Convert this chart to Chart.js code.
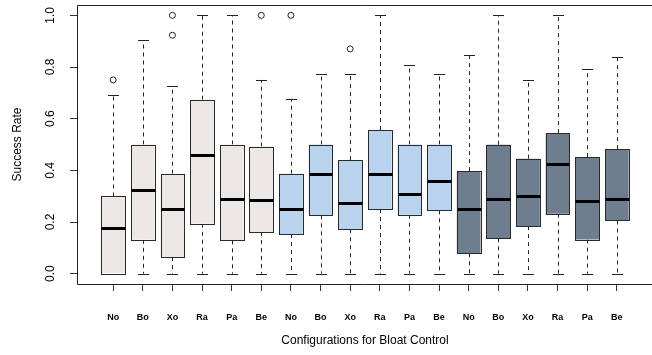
<!DOCTYPE html>
<html>
<head>
<meta charset="utf-8">
<script src="https://cdn.jsdelivr.net/npm/chart.js@4"></script>
<style>
html,body{margin:0;padding:0;background:#fff;overflow:hidden;}
#wrap{width:660px;height:355px;}
</style>
</head>
<body>
<div id="wrap"><canvas id="c" width="660" height="355"></canvas></div>
<script>
// ---- data ----
const categories = ["No","Bo","Xo","Ra","Pa","Be","No","Bo","Xo","Ra","Pa","Be","No","Bo","Xo","Ra","Pa","Be"];
const groupOf    = [0,0,0,0,0,0,1,1,1,1,1,1,2,2,2,2,2,2];
const whiskerLow = [0,0,0,0,0,0, 0,0,0,0,0,0, 0,0,0,0,0,0];
const q1         = [0,0.131,0.064,0.193,0.129,0.161, 0.153,0.226,0.172,0.250,0.228,0.245, 0.079,0.137,0.184,0.232,0.132,0.206];
const medians    = [0.178,0.322,0.250,0.458,0.289,0.286, 0.250,0.385,0.273,0.387,0.310,0.359, 0.250,0.290,0.299,0.426,0.280,0.289];
const q3         = [0.299,0.500,0.387,0.673,0.500,0.492, 0.387,0.500,0.440,0.556,0.500,0.500, 0.397,0.499,0.445,0.544,0.451,0.482];
const whiskerHigh= [0.692,0.903,0.727,1.0,1.0,0.750, 0.677,0.774,0.774,1.0,0.806,0.774, 0.846,1.0,0.749,1.0,0.793,0.838];
const outliers   = [[0.75],[],[0.923,1.0],[],[],[1.0], [1.0],[],[0.870],[],[],[], [],[],[],[],[],[]];
const yTicks     = [0, 0.2, 0.4, 0.6, 0.8, 1.0];
const yTickLabels= ["0.0","0.2","0.4","0.6","0.8","1.0"];
const groupColors= ["#ECE8E6", "#B9D3EE", "#6F7E8E"];
const yTitle = "Success Rate";
const xTitle = "Configurations for Bloat Control";

const positions = categories.map((_, i) => i + 1);
const FONT = "'Liberation Sans', Arial, Helvetica, sans-serif";

const boxDatasets = groupColors.map((col, g) => ({
  type: 'bar',
  data: positions.filter((p, i) => groupOf[i] === g).map(p => ({x: p, y: [q1[p-1], q3[p-1]]})),
  backgroundColor: col,
  borderWidth: 0,
  grouped: false,
  barPercentage: 0.8,
  categoryPercentage: 1.0,
  order: 2
}));

const outlierPoints = [];
outliers.forEach((arr, i) => arr.forEach(v => outlierPoints.push({x: positions[i], y: v})));

const px = v => Math.round(v) + 0.5;

const boxPlugin = {
  id: 'boxParts',
  beforeDatasetsDraw(chart) {
    const ctx = chart.ctx, xs = chart.scales.x, ys = chart.scales.y;
    ctx.save();
    ctx.strokeStyle = '#222';
    ctx.lineWidth = 1;
    positions.forEach((p, i) => {
      const x = px(xs.getPixelForValue(p));
      const capHalf = xs.getPixelForValue(p + 0.2) - xs.getPixelForValue(p);
      const yq1 = ys.getPixelForValue(q1[i]), yq3 = ys.getPixelForValue(q3[i]);
      const ylo = ys.getPixelForValue(whiskerLow[i]), yhi = ys.getPixelForValue(whiskerHigh[i]);
      ctx.setLineDash([4, 4]);
      ctx.beginPath();
      ctx.moveTo(x, yq3); ctx.lineTo(x, yhi);
      ctx.moveTo(x, yq1); ctx.lineTo(x, ylo);
      ctx.stroke();
      ctx.setLineDash([]);
      ctx.beginPath();
      const yh = px(yhi), yl = px(ylo);
      ctx.moveTo(Math.round(x - capHalf), yh); ctx.lineTo(Math.round(x + capHalf), yh);
      ctx.moveTo(Math.round(x - capHalf), yl); ctx.lineTo(Math.round(x + capHalf), yl);
      ctx.stroke();
    });
    ctx.restore();
  },
  afterDatasetsDraw(chart) {
    const ctx = chart.ctx, xs = chart.scales.x, ys = chart.scales.y, a = chart.chartArea;
    ctx.save();
    // box outlines and medians
    positions.forEach((p, i) => {
      const xl = px(xs.getPixelForValue(p - 0.4)), xr = px(xs.getPixelForValue(p + 0.4));
      const yt = px(ys.getPixelForValue(q3[i])), yb = px(ys.getPixelForValue(q1[i]));
      ctx.strokeStyle = '#2a2a2a';
      ctx.lineWidth = 1;
      ctx.strokeRect(xl, yt, xr - xl, yb - yt);
      const y = px(ys.getPixelForValue(medians[i]));
      ctx.strokeStyle = '#000';
      ctx.lineWidth = 3;
      ctx.beginPath(); ctx.moveTo(xl, y); ctx.lineTo(xr, y); ctx.stroke();
    });
    // frame (left, top, bottom, right)
    ctx.strokeStyle = '#222';
    ctx.lineWidth = 1;
    const L = px(a.left), T = px(a.top), B = px(a.bottom), R = px(a.right);
    ctx.beginPath();
    ctx.moveTo(L, T); ctx.lineTo(R, T);
    ctx.moveTo(L, B); ctx.lineTo(R, B);
    ctx.moveTo(L, T); ctx.lineTo(L, B);
    ctx.moveTo(R, T); ctx.lineTo(R, B);
    ctx.stroke();
    // y tick labels (rotated like R)
    ctx.fillStyle = '#000';
    ctx.font = '12px ' + FONT;
    ctx.textAlign = 'center';
    ctx.textBaseline = 'middle';
    yTicks.forEach((v, i) => {
      const y = ys.getPixelForValue(v);
      ctx.save();
      ctx.translate(51, y);
      ctx.rotate(-Math.PI / 2);
      ctx.fillText(yTickLabels[i], 0, 0);
      ctx.restore();
    });
    ctx.restore();
  }
};

new Chart(document.getElementById('c'), {
  type: 'bar',
  data: {
    datasets: [
      ...boxDatasets,
      {
        type: 'scatter',
        data: outlierPoints,
        pointStyle: 'circle',
        pointRadius: 3,
        pointBorderWidth: 1,
        borderColor: '#222',
        backgroundColor: 'rgba(0,0,0,0)',
        pointBackgroundColor: 'rgba(0,0,0,0)',
        order: 1
      }
    ]
  },
  options: {
    responsive: false,
    devicePixelRatio: 1,
    animation: false,
    layout: { padding: { left: 0, top: 5, right: 7, bottom: 0 } },
    plugins: { legend: { display: false }, tooltip: { enabled: false } },
    scales: {
      x: {
        type: 'linear',
        min: -0.22,
        max: 19.22,
        offset: false,
        afterBuildTicks(scale) { scale.ticks = positions.map(v => ({ value: v })); },
        afterFit(scale) { scale.height = 71; },
        grid: { display: true, offset: false, drawOnChartArea: false, drawTicks: true, tickLength: 7, color: '#333', lineWidth: 1 },
        border: { display: false },
        ticks: {
          autoSkip: false, maxRotation: 0, minRotation: 0,
          padding: 21,
          color: '#000',
          font: { family: FONT, size: 9, weight: 'bold' },
          callback: (v) => categories[Math.round(v) - 1] || ''
        },
        title: { display: true, text: xTitle, color: '#000', font: { family: FONT, size: 12 }, padding: { top: 0, bottom: 7 } }
      },
      y: {
        type: 'linear',
        min: -0.04,
        max: 1.04,
        afterBuildTicks(scale) { scale.ticks = yTicks.map(v => ({ value: v })); },
        afterFit(scale) { scale.width = 77; },
        grid: { display: true, drawOnChartArea: false, drawTicks: true, tickLength: 7, color: '#333', lineWidth: 1 },
        border: { display: false },
        ticks: { display: false },
        title: { display: true, text: yTitle, color: '#000', font: { family: FONT, size: 12 }, padding: { top: 10, bottom: 0 } }
      }
    }
  },
  plugins: [boxPlugin]
});
</script>
</body>
</html>
